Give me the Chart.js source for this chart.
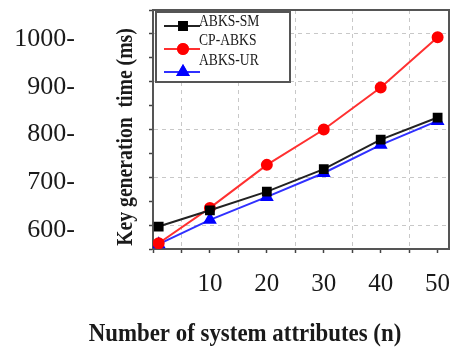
<!DOCTYPE html>
<html>
<head>
  <title>Key generation time</title>
  <script src="https://cdn.jsdelivr.net/npm/chart.js"></script>
  <style>
    html, body { margin: 0; padding: 0; background: #fff; }
    #wrap { width: 457px; height: 347px; }
  </style>
</head>
<body>
<div id="wrap">
  <canvas id="keyChart" width="457" height="347"></canvas>
</div>

<script>
  // values
  const attributes = [1, 10, 20, 30, 40, 50];
  const abksSM = [597, 631, 670, 717, 779, 825];
  const cpABKS = [562, 636, 726, 800, 888, 993];
  const abksUR = [560, 611, 659, 709, 768, 818];
  const seriesNames = ['ABKS-SM', 'CP-ABKS', 'ABKS-UR'];
  const yLabels = [600, 700, 800, 900, 1000];
  const xLabels = [10, 20, 30, 40, 50];

  const serif = "'Liberation Serif', 'Times New Roman', serif";
  const textColor = '#1a1a1a';

  function toPoints(values) {
    return attributes.map((x, i) => ({ x: x, y: values[i] }));
  }

  // frame, legend box and axis titles
  const extras = {
    id: 'extras',
    afterDatasetsDraw(chart) {
      const ctx = chart.ctx;
      const a = chart.chartArea;
      ctx.save();
      // top and right sides of the frame
      ctx.strokeStyle = '#555';
      ctx.lineWidth = 2;
      ctx.beginPath();
      ctx.moveTo(a.left, a.top);
      ctx.lineTo(a.right, a.top);
      ctx.lineTo(a.right, a.bottom);
      ctx.stroke();

      // legend box
      const bx = a.left + 3, by = a.top + 2, bw = 134, bh = 70;
      ctx.fillStyle = '#fff';
      ctx.fillRect(bx, by, bw, bh);
      ctx.strokeStyle = '#555';
      ctx.lineWidth = 2;
      ctx.strokeRect(bx, by, bw, bh);

      const lineY = [26, 49, 72];
      const textY = [22, 41, 61];
      chart.data.datasets.forEach((ds, i) => {
        ctx.strokeStyle = ds.borderColor;
        ctx.lineWidth = 2;
        ctx.beginPath();
        ctx.moveTo(164, lineY[i]);
        ctx.lineTo(200, lineY[i]);
        ctx.stroke();
        Chart.helpers.drawPoint(ctx, {
          pointStyle: ds.pointStyle,
          radius: ds.pointRadius,
          rotation: 0,
          borderWidth: 1
        }, 183, lineY[i]);
        ctx.fillStyle = ds.pointBackgroundColor;
        ctx.strokeStyle = ds.pointBorderColor;
        ctx.fill();
        ctx.stroke();

        ctx.save();
        ctx.translate(199, textY[i]);
        ctx.scale(0.8, 1);
        ctx.fillStyle = textColor;
        ctx.font = '17px ' + serif;
        ctx.textBaseline = 'middle';
        ctx.textAlign = 'left';
        ctx.fillText(ds.label, 0, 0);
        ctx.restore();
      });
      ctx.restore();
    },
    afterDraw(chart) {
      const ctx = chart.ctx;
      ctx.save();
      ctx.fillStyle = textColor;
      ctx.textAlign = 'center';
      ctx.textBaseline = 'middle';

      // y title
      ctx.save();
      ctx.translate(126, 137);
      ctx.rotate(-Math.PI / 2);
      ctx.scale(0.82, 1);
      ctx.font = 'bold 24px ' + serif;
      ctx.fillText('Key generation  time (ms)', 0, 0);
      ctx.restore();

      // x title
      ctx.save();
      ctx.translate(245, 334);
      ctx.scale(0.88, 1);
      ctx.font = 'bold 26px ' + serif;
      ctx.fillText('Number of system attributes (n)', 0, 0);
      ctx.restore();

      ctx.restore();
    }
  };

  const ctx = document.getElementById('keyChart').getContext('2d');
  new Chart(ctx, {
    type: 'line',
    data: {
      datasets: [
        {
          label: seriesNames[0],
          data: toPoints(abksSM),
          borderColor: '#222',
          backgroundColor: '#000',
          pointBackgroundColor: '#000',
          pointBorderColor: '#000',
          pointStyle: 'rect',
          pointRadius: 5.5,
          borderWidth: 2
        },
        {
          label: seriesNames[1],
          data: toPoints(cpABKS),
          borderColor: '#ff3030',
          backgroundColor: '#ff0000',
          pointBackgroundColor: '#ff0000',
          pointBorderColor: '#ff0000',
          pointStyle: 'circle',
          pointRadius: 5,
          borderWidth: 2
        },
        {
          label: seriesNames[2],
          data: toPoints(abksUR),
          borderColor: '#3030ff',
          backgroundColor: '#0000ff',
          pointBackgroundColor: '#0000ff',
          pointBorderColor: '#0000ff',
          pointStyle: 'triangle',
          pointRadius: 6,
          borderWidth: 2
        }
      ]
    },
    options: {
      responsive: false,
      animation: false,
      layout: { padding: { top: 10, right: 7, left: 0, bottom: 0 } },
      plugins: {
        legend: { display: false },
        tooltip: { enabled: false }
      },
      elements: { line: { tension: 0 } },
      scales: {
        x: {
          type: 'linear',
          min: 0,
          max: 52,
          afterFit(scale) {
            scale.height = 98;
            scale.paddingLeft = 0;
            scale.paddingRight = 0;
          },
          ticks: {
            stepSize: 5,
            includeBounds: false,
            autoSkip: false,
            maxRotation: 0,
            padding: 16,
            color: textColor,
            font: { family: serif, size: 25 },
            callback: v => xLabels.includes(v) ? String(v) : ''
          },
          grid: {
            color: c => (c.tick && c.tick.value % 10 === 5) ? '#c8c8c8' : 'transparent',
            tickColor: '#444',
            tickLength: 4,
            tickWidth: 1.5
          },
          border: { display: true, color: '#555', width: 2, dash: [4, 4] }
        },
        y: {
          min: 550,
          max: 1050,
          afterFit(scale) {
            scale.width = 153;
            scale.paddingTop = 0;
            scale.paddingBottom = 0;
          },
          ticks: {
            stepSize: 50,
            autoSkip: false,
            padding: 74,
            labelOffset: 5,
            color: textColor,
            font: { family: serif, size: 26 },
            callback: v => yLabels.includes(v) ? v + '-' : ''
          },
          grid: {
            color: c => (c.tick && yLabels.includes(c.tick.value)) ? '#c8c8c8' : 'transparent',
            tickColor: '#444',
            tickLength: 4,
            tickWidth: 1.5
          },
          border: { display: true, color: '#555', width: 2, dash: [4, 4] }
        }
      }
    },
    plugins: [extras]
  });
</script>
</body>
</html>
